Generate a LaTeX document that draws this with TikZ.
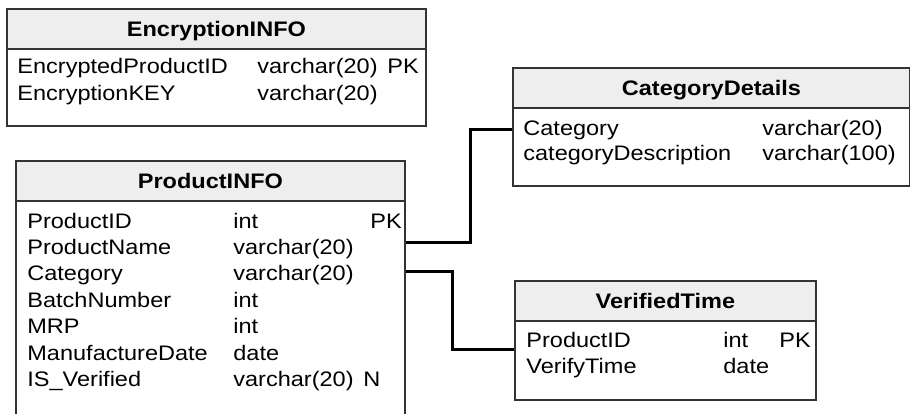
\documentclass[tikz,border=0pt]{standalone}
\usepackage{fontspec}
\setmainfont{Liberation Sans}[FakeStretch=1.12]
\usepackage{xcolor}
\definecolor{headgray}{HTML}{EEEEEE}
\definecolor{edgegray}{HTML}{333333}
\begin{document}
\begin{tikzpicture}[x=0.5pt, y=-0.5pt]
                        % tbl = outer box of a table, hd = grey title bar, fld = one text cell
                        \tikzstyle{tbl}=[draw=edgegray, line width=0.9pt, anchor=north west, inner sep=0pt]
                        \tikzstyle{hd}=[tbl, fill=headgray, minimum height=20pt, text height=7.5pt, text depth=0pt, font=\fontsize{10.5}{12}\selectfont\bfseries]
                        \tikzstyle{fld}=[anchor=base west, inner sep=0pt, font=\fontsize{10.5}{12}\selectfont]
                        \tikzstyle{link}=[black, line width=1.5pt]
                        \clip (0,0) rectangle (910,413);

                        \node[tbl, minimum width=209.5pt, minimum height=58.5pt] (enc) at (6,8) {};
                        \node[hd, minimum width=209.5pt] (enchd) at (enc.north west) {EncryptionINFO};
                        \node[fld] (encid) at (17,73) {EncryptedProductID};
                        \node[fld] (encidt) at (257,73) {varchar(20)};
                        \node[fld] (encidk) at (387,73) {PK};
                        \node[fld] (enckey) at (17,100) {EncryptionKEY};
                        \node[fld] (enckeyt) at (257,100) {varchar(20)};

                        \node[tbl, minimum width=194.5pt, minimum height=130pt] (prod) at (15,160) {};
                        \node[hd, minimum width=194.5pt] (prodhd) at (prod.north west) {ProductINFO};
                        \node[fld] (pid) at (27,228) {ProductID};
                        \node[fld] (pidt) at (233,228) {int};
                        \node[fld] (pidk) at (370,228) {PK};
                        \node[fld] (pname) at (27,254) {ProductName};
                        \node[fld] (pnamet) at (233,254) {varchar(20)};
                        \node[fld] (pcat) at (27,280) {Category};
                        \node[fld] (pcatt) at (233,280) {varchar(20)};
                        \node[fld] (pbatch) at (27,307) {BatchNumber};
                        \node[fld] (pbatcht) at (233,307) {int};
                        \node[fld] (pmrp) at (27,333) {MRP};
                        \node[fld] (pmrpt) at (233,333) {int};
                        \node[fld] (pdate) at (27,360) {ManufactureDate};
                        \node[fld] (pdatet) at (233,360) {date};
                        \node[fld] (pver) at (27,386) {IS\_Verified};
                        \node[fld] (pvert) at (233,386) {varchar(20)};
                        \node[fld] (pvern) at (363,386) {N};

                        \node[tbl, minimum width=198.5pt, minimum height=59pt] (cat) at (512,67) {};
                        \node[hd, minimum width=198.5pt] (cathd) at (cat.north west) {CategoryDetails};
                        \node[fld] (ccat) at (523,135) {Category};
                        \node[fld] (ccatt) at (762,135) {varchar(20)};
                        \node[fld] (cdesc) at (523,160) {categoryDescription};
                        \node[fld] (cdesct) at (762,160) {varchar(100)};

                        \node[tbl, minimum width=150.5pt, minimum height=59.5pt] (ver) at (514,280) {};
                        \node[hd, minimum width=150.5pt] (verhd) at (ver.north west) {VerifiedTime};
                        \node[fld] (vid) at (526,347) {ProductID};
                        \node[fld] (vidt) at (723,347) {int};
                        \node[fld] (vidk) at (779,347) {PK};
                        \node[fld] (vtime) at (526,373) {VerifyTime};
                        \node[fld] (vtimet) at (723,373) {date};

                        \draw[link] (prod.east |- 0,242) -- (470,242) |- (cat.west |- 0,129);

                        \draw[link] (prod.east |- 0,271) -- (452,271) |- (ver.west |- 0,349);

                \end{tikzpicture}
\end{document}
